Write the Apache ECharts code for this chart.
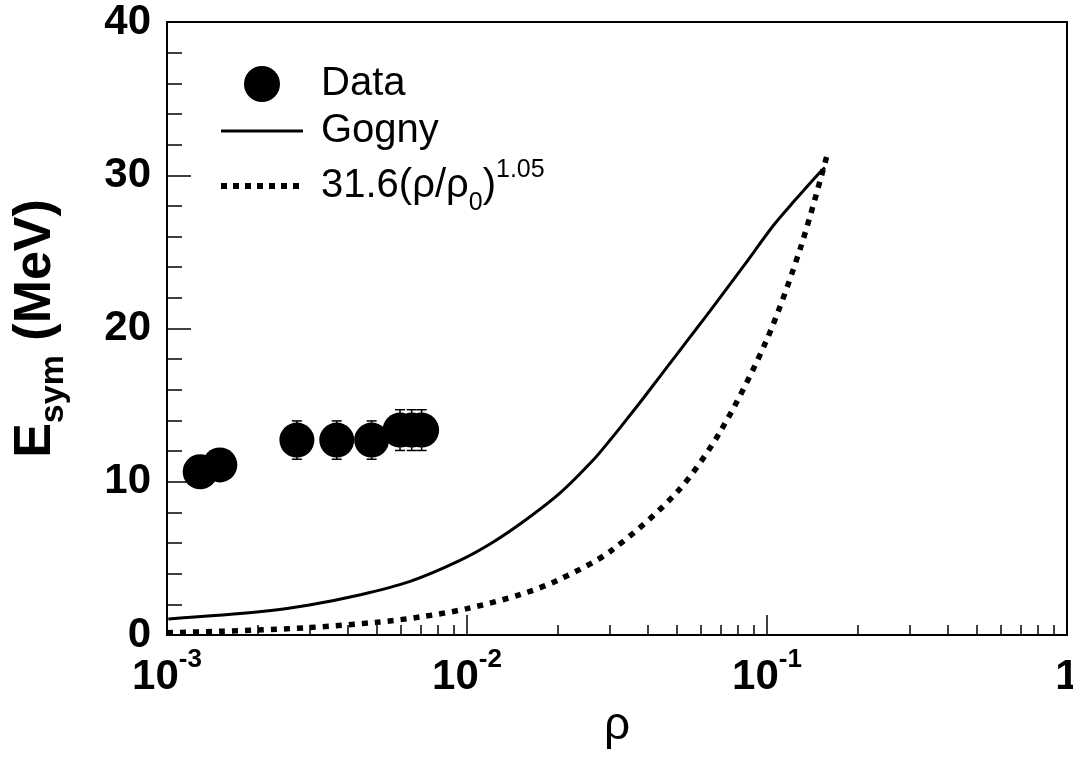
<!DOCTYPE html>
<html><head><meta charset="utf-8">
<script src="https://cdn.jsdelivr.net/npm/echarts@6/dist/echarts.min.js"></script>
<style>html,body{margin:0;padding:0;background:#fff}#c{width:1073px;height:757px}</style>
</head><body><div id="c"></div>
<script>
// ---- data ----
const dataRho  = [0.00129, 0.00150, 0.00271, 0.00368, 0.00481, 0.00598, 0.00654, 0.00706];
const dataEsym = [10.65, 11.1, 12.72, 12.72, 12.72, 13.37, 13.37, 13.37];
const dataErr  = [0.8, 0.8, 1.25, 1.25, 1.25, 1.33, 1.33, 1.33];

const gognyRho = [0.00101, 0.00203, 0.00298, 0.00438, 0.00643, 0.00944, 0.0122, 0.0158, 0.0204, 0.0263, 0.0300, 0.0340, 0.0387, 0.0440, 0.0500, 0.0580, 0.0646, 0.0834, 0.105, 0.1224, 0.1502, 0.156];
const gognyE   = [1.05, 1.52, 1.96, 2.61, 3.48, 4.85, 6.05, 7.55, 9.25, 11.4, 12.72, 14.05, 15.45, 16.88, 18.3, 19.95, 21.15, 24.05, 26.72, 28.25, 30.2, 30.5];

const fitRho = [0.001, 0.0015, 0.002, 0.003, 0.005, 0.007, 0.01, 0.015, 0.02, 0.03, 0.05, 0.07, 0.1, 0.13, 0.16];
const fitE   = [0.15, 0.24, 0.32, 0.49, 0.83, 1.18, 1.72, 2.63, 3.56, 5.45, 9.3, 13.3, 19.3, 25.4, 31.6];

const xMajorTicks = [0.001, 0.01, 0.1, 1];
const xTickLabels = ['10^-3', '10^-2', '10^-1', '1'];
const xMinorTicks = [0.002,0.003,0.004,0.005,0.006,0.007,0.008,0.009,
                     0.02,0.03,0.04,0.05,0.06,0.07,0.08,0.09,
                     0.2,0.3,0.4,0.5,0.6,0.7,0.8,0.9];
const yTickValues = [0, 10, 20, 30, 40];

const seriesNames = ['Data', 'Gogny', '31.6(ρ/ρ0)^1.05'];

// ---- build ----
const zip = (a, b) => a.map((v, i) => [v, b[i]]);
const FONT = '"Liberation Sans", Arial, Helvetica, sans-serif';

const chart = echarts.init(document.getElementById('c'), null, {renderer: 'canvas'});

function xLabel(v) {
  let idx = xMajorTicks.findIndex(t => Math.abs(Math.log10(t) - Math.log10(v)) < 1e-6);
  if (idx < 0) return '';
  const s = xTickLabels[idx];
  if (s.indexOf('^') < 0) return '{b|' + s + '}';
  const p = s.split('^');
  return '{b|' + p[0] + '}{s|' + p[1] + '}';
}

const option = {
  animation: false,
  backgroundColor: '#fff',
  grid: {left: 167, right: 6, top: 22, bottom: 122, show: true, borderColor: '#000', borderWidth: 2,
         backgroundColor: 'transparent', containLabel: false, outerBoundsMode: 'none'},
  legend: {
    orient: 'vertical', left: 218, top: 64, padding: 0, itemWidth: 82, itemHeight: 36, itemGap: 7,
    selectedMode: false,
    data: [
      {name: seriesNames[0], icon: 'circle', itemStyle: {color: '#000', opacity: 1}},
      {name: seriesNames[1], itemStyle: {opacity: 0}, lineStyle: {width: 3, color: '#000'}},
      {name: seriesNames[2], itemStyle: {opacity: 0}, lineStyle: {width: 6, color: '#000', type: [6, 6]}}
    ],
    formatter: function (name) {
      if (name === seriesNames[2]) return '{n|31.6(ρ/ρ}{sub|0}{n|)}{sup|1.05}';
      return '{n|' + name + '}';
    },
    textStyle: {
      fontFamily: FONT, color: '#000', padding: [0, 0, 0, 13],
      rich: {
        n: {fontSize: 40, fontFamily: FONT, color: '#000', lineHeight: 36},
        sub: {fontSize: 25, fontFamily: FONT, color: '#000', verticalAlign: 'bottom', lineHeight: 20, padding: [0, 0, -12, 0]},
        sup: {fontSize: 25, fontFamily: FONT, color: '#000', verticalAlign: 'top', lineHeight: 20, padding: [-10, 0, 0, 0]}
      }
    }
  },
  xAxis: [{
    type: 'log', logBase: 10, min: 0.001, max: 1, gridIndex: 0, position: 'bottom',
    name: 'ρ', nameLocation: 'middle', nameGap: 67,
    nameTextStyle: {fontSize: 46, fontFamily: FONT, color: '#000'},
    axisLine: {show: true, lineStyle: {color: '#000', width: 2}},
    axisTick: {show: true, inside: true, length: 20, lineStyle: {color: '#000', width: 1.5}, customValues: xMajorTicks},
    axisLabel: {
      show: true, margin: 20, customValues: xMajorTicks, formatter: xLabel, color: '#000',
      rich: {
        b: {fontSize: 42, fontWeight: 'bold', fontFamily: FONT, color: '#000', lineHeight: 44},
        s: {fontSize: 26, fontWeight: 'bold', fontFamily: FONT, color: '#000', verticalAlign: 'top', lineHeight: 44, padding: [-8, 0, 0, 0]}
      }
    },
    splitLine: {show: false}
  }, {
    type: 'log', logBase: 10, min: 0.001, max: 1, gridIndex: 0, position: 'bottom',
    axisLine: {show: false},
    axisTick: {show: true, inside: true, length: 10, lineStyle: {color: '#000', width: 1.5}, customValues: xMinorTicks},
    axisLabel: {show: false},
    splitLine: {show: false}
  }],
  yAxis: {
    type: 'value', min: 0, max: 40, interval: 10,
    name: '{e|E}{s|sym}{e| (MeV)}', nameLocation: 'middle', nameGap: 104, nameRotate: 90,
    nameTextStyle: {
      fontFamily: FONT, color: '#000',
      rich: {
        e: {fontSize: 52, fontWeight: 'bold', fontFamily: FONT, color: '#000', lineHeight: 54},
        s: {fontSize: 34, fontWeight: 'bold', fontFamily: FONT, color: '#000', verticalAlign: 'bottom', lineHeight: 54, padding: [0, 0, -8, 0]}
      }
    },
    axisLine: {show: true, lineStyle: {color: '#000', width: 2}},
    axisTick: {show: true, inside: true, length: 24, lineStyle: {color: '#000', width: 1.5}},
    minorTick: {show: true, splitNumber: 5, length: 15, lineStyle: {color: '#000', width: 1.5}},
    axisLabel: {margin: 16, fontSize: 42, fontWeight: 'bold', fontFamily: FONT, color: '#000',
                customValues: yTickValues, padding: [8, 0, 0, 0]},
    splitLine: {show: false}
  },
  series: [{
    name: seriesNames[0], type: 'scatter', symbol: 'circle', symbolSize: 35,
    itemStyle: {color: '#000', opacity: 1}, z: 5,
    data: zip(dataRho, dataEsym)
  }, {
    name: seriesNames[1], type: 'line', symbol: 'none', smooth: 0.3,
    lineStyle: {color: '#000', width: 3}, itemStyle: {color: '#000'},
    data: zip(gognyRho, gognyE)
  }, {
    name: seriesNames[2], type: 'line', symbol: 'none', smooth: 0.3,
    lineStyle: {color: '#000', width: 5.5, type: [6, 7]}, itemStyle: {color: '#000'},
    data: zip(fitRho, fitE)
  }, {
    name: 'err', type: 'custom', z: 4,
    data: dataRho.map((r, i) => [r, dataEsym[i] - dataErr[i], dataEsym[i] + dataErr[i]]),
    renderItem: function (params, api) {
      const lo = api.coord([api.value(0), api.value(1)]);
      const hi = api.coord([api.value(0), api.value(2)]);
      const w = 5;
      const st = {stroke: '#000', lineWidth: 1.5};
      return {type: 'group', children: [
        {type: 'line', shape: {x1: lo[0], y1: lo[1], x2: hi[0], y2: hi[1]}, style: st},
        {type: 'line', shape: {x1: lo[0] - w, y1: lo[1], x2: lo[0] + w, y2: lo[1]}, style: st},
        {type: 'line', shape: {x1: hi[0] - w, y1: hi[1], x2: hi[0] + w, y2: hi[1]}, style: st}
      ]};
    }
  }]
};
chart.setOption(option);
</script>
</body></html>
